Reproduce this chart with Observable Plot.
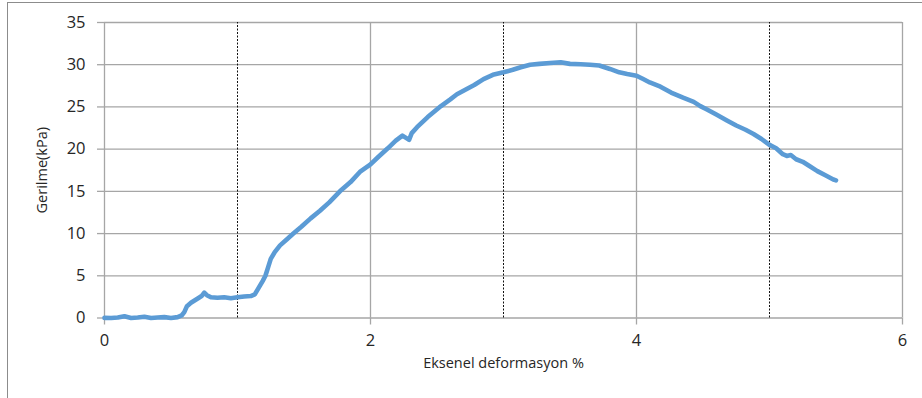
<!DOCTYPE html>
<html>
<head>
<meta charset="utf-8">
<script src="https://cdn.jsdelivr.net/npm/d3@7"></script>
<script src="https://cdn.jsdelivr.net/npm/@observablehq/plot@0.6"></script>
<style>
  html, body { margin: 0; padding: 0; background: #fff; }
  #wrap { position: relative; width: 922px; height: 398px; overflow: hidden; }
  #border { position: absolute; left: 7px; top: 2px; right: -2px; bottom: -2px;
            border-left: 1.5px solid #8c8c8c; border-top: 1.5px solid #8c8c8c; }
  #chart { position: absolute; left: 0; top: 0; }
</style>
</head>
<body>
<div id="wrap"><div id="border"></div><div id="chart"></div></div>
<script>
// Axial strain (%) and stress (kPa) readings
const strain = [
  0.00, 0.05, 0.10, 0.15, 0.20, 0.25, 0.30, 0.35, 0.40, 0.45, 0.50, 0.55, 0.58,
  0.60, 0.62, 0.65, 0.68, 0.71, 0.73, 0.75, 0.77, 0.80, 0.85, 0.90, 0.95, 1.00,
  1.05, 1.10, 1.13, 1.16, 1.19, 1.21, 1.23, 1.25, 1.28, 1.32, 1.37, 1.42, 1.48,
  1.55, 1.62, 1.69, 1.77, 1.85, 1.92, 2.00, 2.06, 2.13, 2.19, 2.24, 2.27, 2.29,
  2.31, 2.35, 2.43, 2.53, 2.60, 2.65, 2.72, 2.78, 2.85, 2.92, 3.00, 3.07, 3.13,
  3.20, 3.27, 3.35, 3.43, 3.50, 3.58, 3.65, 3.72, 3.80, 3.87, 3.93, 4.00, 4.05,
  4.10, 4.18, 4.26, 4.35, 4.43, 4.48, 4.53, 4.60, 4.68, 4.75, 4.82, 4.88, 4.94,
  5.00, 5.05, 5.10, 5.13, 5.16, 5.20, 5.25, 5.30, 5.36, 5.42, 5.48, 5.50
];
const stress = [
  0.02, 0.00, 0.05, 0.20, 0.00, 0.05, 0.15, 0.00, 0.05, 0.10, 0.00, 0.10, 0.30,
  0.70, 1.40, 1.80, 2.10, 2.40, 2.60, 3.00, 2.70, 2.45, 2.40, 2.45, 2.35, 2.45,
  2.55, 2.60, 2.80, 3.60, 4.40, 5.00, 6.00, 7.00, 7.80, 8.60, 9.30, 10.0, 10.8,
  11.8, 12.7, 13.7, 15.0, 16.1, 17.3, 18.2, 19.1, 20.1, 21.0, 21.6, 21.3, 21.1,
  21.9, 22.6, 23.8, 25.1, 25.9, 26.5, 27.1, 27.6, 28.3, 28.8, 29.1, 29.4, 29.7,
  30.0, 30.1, 30.2, 30.3, 30.1, 30.05, 30.0, 29.9, 29.5, 29.1, 28.9, 28.7, 28.3,
  27.9, 27.4, 26.7, 26.1, 25.6, 25.1, 24.7, 24.1, 23.4, 22.8, 22.3, 21.8, 21.2,
  20.5, 20.1, 19.4, 19.2, 19.3, 18.8, 18.5, 18.0, 17.4, 16.9, 16.4, 16.3
];

const xTicks = [0, 2, 4, 6];
const xDashed = [1, 3, 5];
const yTicks = [0, 5, 10, 15, 20, 25, 30, 35];

const points = strain.map((x, i) => ({x, y: stress[i]}));

const gridColor = "#a6a6a6";
const textColor = "#262626";

const chart = Plot.plot({
  width: 922,
  height: 398,
  marginLeft: 104,
  marginRight: 20,
  marginTop: 22,
  marginBottom: 80.5,
  style: {fontFamily: "'Open Sans', sans-serif", background: "transparent", overflow: "visible"},
  x: {domain: [0, 6]},
  y: {domain: [0, 35]},
  marks: [
    Plot.gridY(yTicks, {stroke: gridColor, strokeOpacity: 1, strokeWidth: 1.3}),
    Plot.gridX(xTicks, {stroke: gridColor, strokeOpacity: 1, strokeWidth: 1.3}),
    Plot.ruleX(xDashed, {y1: 0, y2: 35, stroke: "#111", strokeWidth: 1, strokeDasharray: "2,1.5"}),
    Plot.axisY(yTicks, {
      tickSize: 7, tickPadding: 12, stroke: gridColor, strokeWidth: 1.3,
      color: textColor, fontSize: 16.5, label: null, tickFormat: d => String(d)
    }),
    Plot.axisX(xTicks, {
      tickSize: 7, tickPadding: 9, stroke: gridColor, strokeWidth: 1.3,
      color: textColor, fontSize: 16.5, label: null, tickFormat: d => String(d)
    }),
    Plot.line(points, {
      x: "x", y: "y", stroke: "#5b9bd5", strokeWidth: 4.6,
      strokeLinejoin: "round", strokeLinecap: "round"
    }),
    Plot.text(["Eksenel deformasyon %"], {
      frameAnchor: "bottom", dy: 50, fill: textColor, fontSize: 14.5
    }),
    Plot.text(["Gerilme(kPa)"], {
      frameAnchor: "left", textAnchor: "middle", dx: -62, rotate: -90,
      fill: textColor, fontSize: 14.5
    })
  ]
});

document.getElementById("chart").appendChild(chart);
</script>
</body>
</html>
